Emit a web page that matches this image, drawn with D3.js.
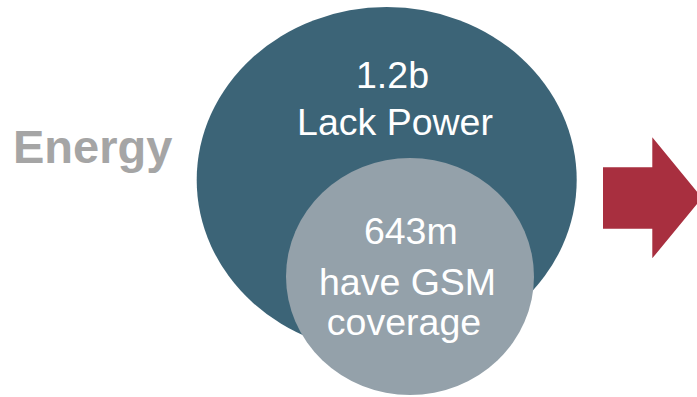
<!DOCTYPE html>
<html>
<head>
<meta charset="utf-8">
<script src="https://cdn.jsdelivr.net/npm/d3@7"></script>
<style>
  html, body { margin: 0; padding: 0; background: #fff; overflow: hidden; }
  svg { display: block; font-family: "Liberation Sans", Arial, sans-serif; }
</style>
</head>
<body>
<div id="chart"></div>
<script>
// data
const groups = ["Lack Power", "have GSM coverage"];
const values = [1200, 643]; // millions of people
const valueLabels = ["1.2b", "643m"];
const captionLines = [["Lack Power"], ["have GSM", "coverage"]];
const sideLabel = "Energy";

const width = 697, height = 397;

const svg = d3.select("#chart")
    .append("svg")
    .attr("width", width)
    .attr("height", height);

// bubble size from value (ellipses are slightly stretched in the source)
const rx = d3.scalePow().exponent(0.684).domain([0, 1200]).range([0, 190]);
const ry = d3.scalePow().exponent(0.606).domain([0, 1200]).range([0, 173]);

const centers = [[386.7, 180], [410, 276.5]];
const fills = ["#3c6477", "#94a1aa"];

svg.append("g")
    .selectAll("ellipse")
    .data(values)
    .join("ellipse")
    .attr("cx", (d, i) => centers[i][0])
    .attr("cy", (d, i) => centers[i][1])
    .attr("rx", d => rx(d))
    .attr("ry", d => ry(d))
    .attr("fill", (d, i) => fills[i]);

// text blocks, baselines
const textLayout = [
    [{x: 392.5, y: 88}, {x: 395, y: 135}],
    [{x: 410.8, y: 243.5}, {x: 407.5, y: 295}, {x: 404, y: 335}]
];

const labelG = svg.append("g")
    .attr("fill", "#fff")
    .attr("font-size", 37.5)
    .attr("text-anchor", "middle");

valueLabels.forEach((lab, i) => {
    const lines = [lab].concat(captionLines[i]);
    lines.forEach((t, j) => {
        labelG.append("text")
            .attr("x", textLayout[i][j].x)
            .attr("y", textLayout[i][j].y)
            .text(t);
    });
});

svg.append("text")
    .attr("x", 13)
    .attr("y", 163)
    .attr("font-size", 47)
    .attr("font-weight", "bold")
    .attr("fill", "#a5a5a5")
    .text(sideLabel);

// red arrow on the right, runs off the edge
const arrow = d3.path();
arrow.moveTo(603, 167.3);
arrow.lineTo(652.3, 167.3);
arrow.lineTo(652.3, 137.3);
arrow.lineTo(702, 197.8);
arrow.lineTo(652.3, 258.3);
arrow.lineTo(652.3, 228.7);
arrow.lineTo(603, 228.7);
arrow.closePath();

svg.append("path")
    .attr("d", arrow.toString())
    .attr("fill", "#a82f3f");
</script>
</body>
</html>
